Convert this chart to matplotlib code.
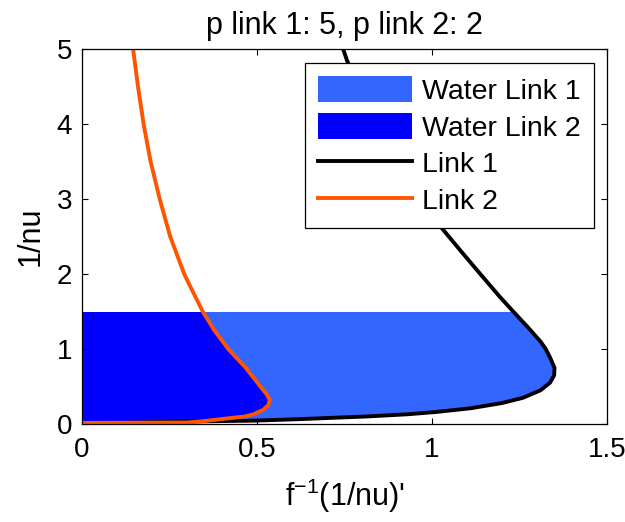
import numpy as np
import matplotlib
matplotlib.use("Agg")
import matplotlib.pyplot as plt
from matplotlib.patches import Rectangle

plt.rcParams['font.family'] = ['Liberation Sans', 'DejaVu Sans']
plt.rcParams['mathtext.fontset'] = 'custom'
plt.rcParams['mathtext.rm'] = 'Liberation Sans'
plt.rcParams['mathtext.default'] = 'regular'

# link 1 profile (1/nu vs f^-1)
link1_y = [0.0, 0.03, 0.045, 0.065, 0.08, 0.10, 0.13, 0.16, 0.21, 0.28, 0.35, 0.45,
           0.55, 0.65, 0.75, 0.89, 1.0, 1.1, 1.3, 1.5, 1.7, 2.0, 2.32, 2.64, 3.0,
           3.5, 4.0, 4.5, 4.85, 5.0]
link1_x = [0.0, 0.25, 0.49, 0.62, 0.70, 0.81, 0.93, 1.01, 1.11, 1.20, 1.26, 1.31,
           1.337, 1.349, 1.35, 1.337, 1.325, 1.31, 1.272, 1.232, 1.193, 1.138, 1.08,
           1.023, 0.97, 0.90, 0.84, 0.788, 0.757, 0.746]

# link 2 profile
link2_y = [0.015, 0.02, 0.04, 0.067, 0.10, 0.13, 0.19, 0.25, 0.32, 0.40, 0.50, 0.75,
           1.0, 1.25, 1.5, 1.8, 2.0, 2.5, 3.0, 3.5, 4.0, 4.5, 5.0]
link2_x = [0.0, 0.30, 0.35, 0.40, 0.465, 0.49, 0.518, 0.532, 0.537, 0.527, 0.51, 0.468,
           0.418, 0.378, 0.345, 0.313, 0.292, 0.252, 0.222, 0.196, 0.176, 0.160, 0.146]

water_level = 1.5
p_link1, p_link2 = 5, 2

fig = plt.figure(figsize=(6.25, 5.22), dpi=100)
ax = fig.add_axes([0.1312, 0.1877, 0.84, 0.7184])

fs = 20
fs_big = 22
water1 = ax.fill_betweenx(link1_y, 0, link1_x, color='#3366ff', lw=0, label='Water Link 1')
water2 = ax.fill_betweenx(link2_y, 0, link2_x, color='#0000ff', lw=0, label='Water Link 2')
for poly in (water1, water2):
    poly.set_clip_path(Rectangle((0, 0), 1.5, water_level, transform=ax.transData))

ax.plot(link1_x, link1_y, color='black', lw=2.8, label='Link 1')
ax.plot(link2_x, link2_y, color='#ff5500', lw=2.8, label='Link 2')

ax.set_xlim(0, 1.5)
ax.set_ylim(0, 5)
ax.set_xticks([0, 0.5, 1, 1.5])
ax.set_xticklabels(['0', '0.5', '1', '1.5'])
ax.set_yticks([0, 1, 2, 3, 4, 5])
ax.tick_params(direction='in', top=True, right=True, length=4, width=0.8,
               labelsize=fs)
ax.tick_params(axis='x', pad=9)
ax.tick_params(axis='y', pad=7)
for s in ax.spines.values():
    s.set_linewidth(0.9)

ax.set_title(f'p link 1: {p_link1}, p link 2: {p_link2}', fontsize=fs_big, pad=11)
ax.set_xlabel("f$^{-1}$(1/nu)'", fontsize=fs_big, labelpad=10)
ax.set_ylabel('1/nu', fontsize=fs_big, labelpad=8)

leg = ax.legend(loc='upper right', bbox_to_anchor=(0.975, 0.963), borderaxespad=0,
                fontsize=20.5, fancybox=False, edgecolor='black', framealpha=1,
                handlelength=3.3, handleheight=1.05, labelspacing=0.28,
                handletextpad=0.36, borderpad=0.45)
leg.get_frame().set_linewidth(0.9)

fig.savefig('out.png', dpi=100)
